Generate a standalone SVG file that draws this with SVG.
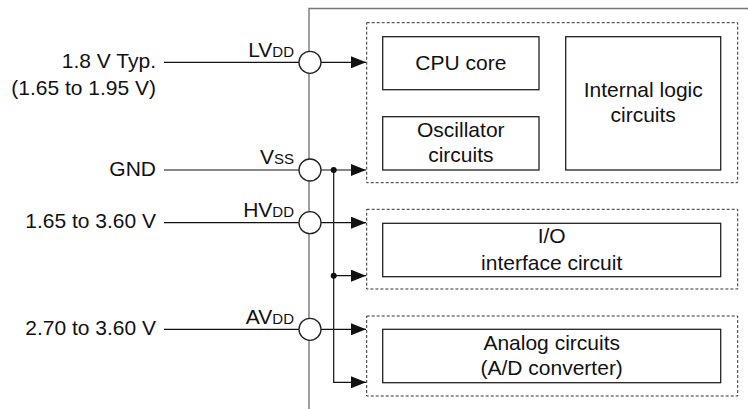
<svg xmlns="http://www.w3.org/2000/svg" width="748" height="409" viewBox="0 0 748 409">
  <style>
    text { font-family: "Liberation Sans", Arial, Helvetica, sans-serif; font-size: 21px; fill: #111; }
    .sub { font-size: 15px; }
    .mid { text-anchor: middle; }
    .end { text-anchor: end; }
    .chip { fill: none; stroke: #777; stroke-width: 1.4; }
    .pin { fill: #fff; stroke: #222; stroke-width: 1.3; }
    .wire { fill: none; stroke: #111; stroke-width: 1.2; }
    .group { fill: none; stroke: #333; stroke-width: 1; stroke-dasharray: 3 2; }
    .block { fill: #fff; stroke: #222; stroke-width: 1.3; }
    .dot { fill: #111; }
  </style>
  <defs>
    <marker id="arrow" markerWidth="15" markerHeight="12" refX="15" refY="6" orient="auto" markerUnits="userSpaceOnUse">
      <path d="M0,0 L15,6 L0,12 Z" fill="#111"/>
    </marker>
  </defs>

  <rect width="748" height="409" fill="#fff"/>

  <!-- chip outline -->
  <path class="chip" d="M748,8.5 H309 V409"/>

  <!-- supply connectors -->
  <g id="connectors">
    <line class="wire" x1="164" y1="62.3" x2="299" y2="62.3"/>
    <line class="wire" x1="164" y1="170" x2="299" y2="170"/>
    <line class="wire" x1="164" y1="222.7" x2="299" y2="222.7"/>
    <line class="wire" x1="164" y1="329.3" x2="299" y2="329.3"/>

    <line class="wire" x1="321" y1="62.3" x2="366" y2="62.3" marker-end="url(#arrow)"/>
    <line class="wire" x1="321" y1="170" x2="366" y2="170" marker-end="url(#arrow)"/>
    <line class="wire" x1="321" y1="222.7" x2="366" y2="222.7" marker-end="url(#arrow)"/>
    <line class="wire" x1="321" y1="329.3" x2="366" y2="329.3" marker-end="url(#arrow)"/>

    <!-- ground distribution -->
    <path class="wire" d="M333.7,170 V382.3 H366" marker-end="url(#arrow)"/>
    <line class="wire" x1="333.7" y1="275.7" x2="366" y2="275.7" marker-end="url(#arrow)"/>
    <circle class="dot" cx="333.7" cy="170" r="3"/>
    <circle class="dot" cx="333.7" cy="275.7" r="3"/>
  </g>

  <!-- supply labels -->
  <g id="label-lvdd">
    <text class="end" x="156" y="68">1.8 V Typ.</text>
    <text class="end" x="156" y="94.5">(1.65 to 1.95 V)</text>
  </g>
  <g id="label-gnd">
    <text class="end" x="156" y="176">GND</text>
  </g>
  <g id="label-hvdd">
    <text class="end" x="156" y="228">1.65 to 3.60 V</text>
  </g>
  <g id="label-avdd">
    <text class="end" x="156" y="335">2.70 to 3.60 V</text>
  </g>

  <!-- pins -->
  <g id="pin-lvdd">
    <circle class="pin" cx="310" cy="62.3" r="11"/>
    <text class="end" x="294" y="57.3">LV<tspan class="sub">DD</tspan></text>
  </g>
  <g id="pin-vss">
    <circle class="pin" cx="310" cy="170" r="11"/>
    <text class="end" x="294" y="163.5">V<tspan class="sub">SS</tspan></text>
  </g>
  <g id="pin-hvdd">
    <circle class="pin" cx="310" cy="222.7" r="11"/>
    <text class="end" x="294" y="217.3">HV<tspan class="sub">DD</tspan></text>
  </g>
  <g id="pin-avdd">
    <circle class="pin" cx="310" cy="329.3" r="11"/>
    <text class="end" x="294" y="324">AV<tspan class="sub">DD</tspan></text>
  </g>

  <!-- core domain -->
  <g id="domain-core">
    <rect class="group" x="366.7" y="22.7" width="371" height="160"/>
  </g>
  <g id="cpu-core">
    <rect class="block" x="382.7" y="36.7" width="156.3" height="53"/>
    <text class="mid" x="460.8" y="70">CPU core</text>
  </g>
  <g id="oscillator">
    <rect class="block" x="382.7" y="116.7" width="156.3" height="53.3"/>
    <text class="mid" x="460.8" y="136.7">Oscillator</text>
    <text class="mid" x="460.8" y="161.7">circuits</text>
  </g>
  <g id="internal-logic">
    <rect class="block" x="565.7" y="36.7" width="155" height="133.3"/>
    <text class="mid" x="643.2" y="96.7">Internal logic</text>
    <text class="mid" x="643.2" y="122.3">circuits</text>
  </g>

  <!-- I/O domain -->
  <g id="domain-io">
    <rect class="group" x="366.7" y="209.3" width="371" height="79.7"/>
  </g>
  <g id="io-interface">
    <rect class="block" x="382.7" y="223.3" width="338" height="53.4"/>
    <text class="mid" x="551.7" y="243.3">I/O</text>
    <text class="mid" x="551.7" y="270">interface circuit</text>
  </g>

  <!-- analog domain -->
  <g id="domain-analog">
    <rect class="group" x="366.7" y="316" width="371" height="80"/>
  </g>
  <g id="analog">
    <rect class="block" x="382.7" y="329.3" width="338" height="53.4"/>
    <text class="mid" x="551.7" y="350">Analog circuits</text>
    <text class="mid" x="551.7" y="375">(A/D converter)</text>
  </g>
</svg>
